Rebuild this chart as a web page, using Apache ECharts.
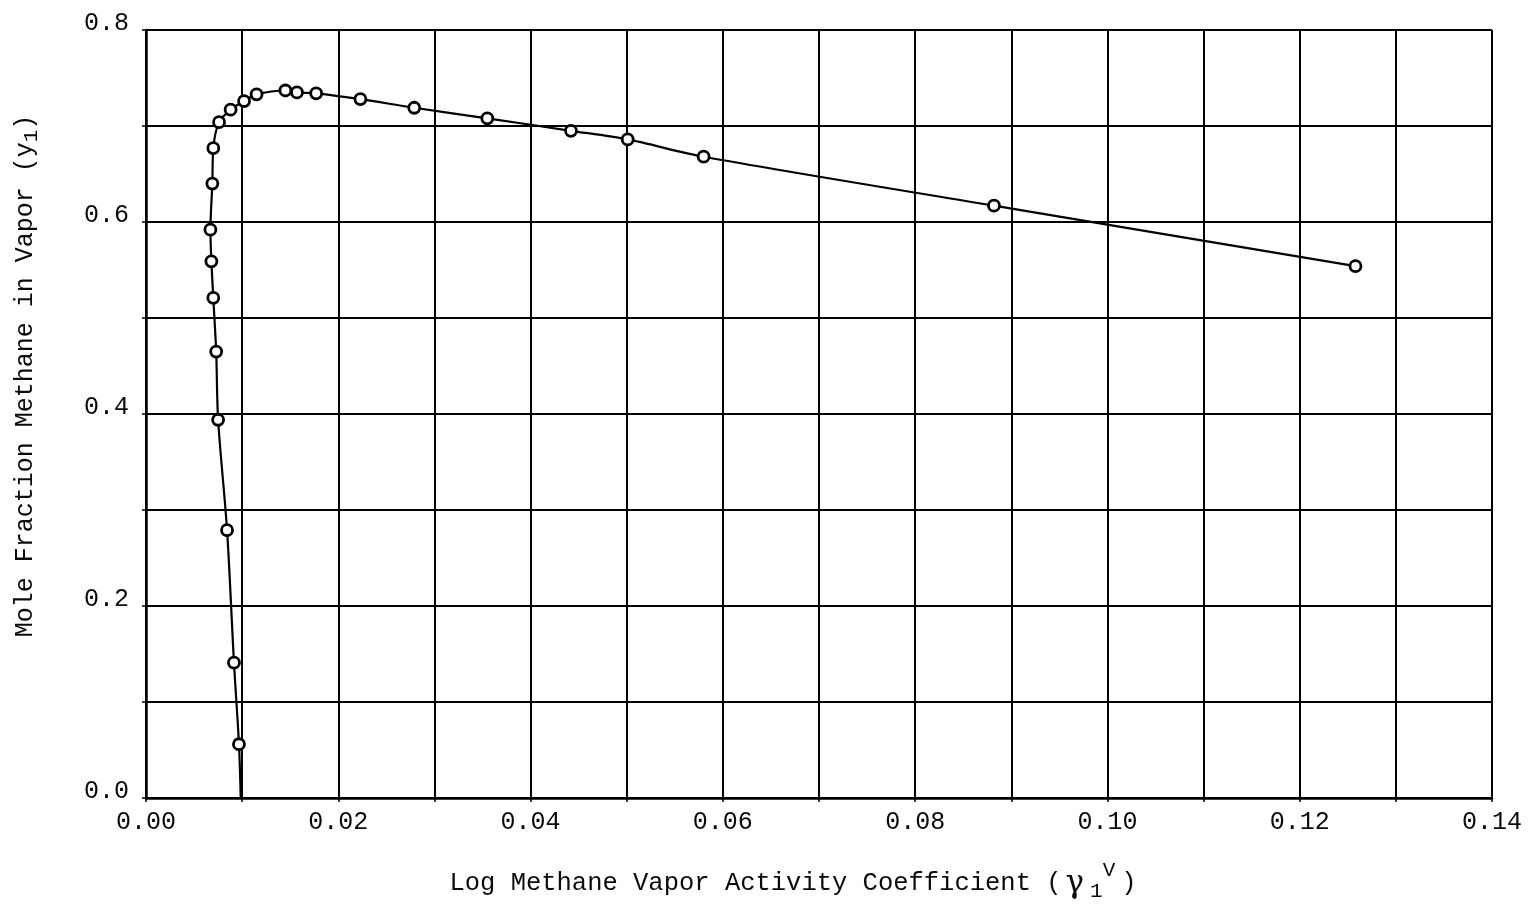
<!DOCTYPE html>
<html>
<head>
<meta charset="utf-8">
<script src="https://cdn.jsdelivr.net/npm/echarts@6/dist/echarts.min.js"></script>
<style>
  html, body { margin: 0; padding: 0; background: #fff; }
  #chart { width: 1536px; height: 914px; }
</style>
</head>
<body>
<div id="chart"></div>
<script>
// Log methane vapor activity coefficient (x) vs mole fraction methane in vapor (y1)
const logGamma = [0.00967, 0.00915, 0.00843, 0.0075, 0.0073, 0.0070, 0.0068, 0.0067, 0.0069,
  0.0070, 0.0076, 0.0088, 0.0102, 0.0115, 0.0145, 0.0157, 0.0177, 0.0223, 0.0279, 0.0355,
  0.0442, 0.0501, 0.0580, 0.0882, 0.1258];
const moleFraction = [0.056, 0.141, 0.279, 0.394, 0.465, 0.521, 0.559, 0.592, 0.640,
  0.677, 0.704, 0.717, 0.726, 0.733, 0.737, 0.735, 0.734, 0.728, 0.719, 0.708,
  0.695, 0.686, 0.668, 0.617, 0.554];
// where the drawn curve meets the x axis
const curveEnd = [0.00985, 0.0];

const xTicks = ['0.00', '0.02', '0.04', '0.06', '0.08', '0.10', '0.12', '0.14'];
const yTicks = ['0.0', '0.2', '0.4', '0.6', '0.8'];

const font = '"Liberation Mono", "DejaVu Sans Mono", monospace';
const ink = '#0a0a0a';

const curve = [{ value: curveEnd, symbol: 'none' }].concat(
  logGamma.map((x, i) => [x, moleFraction[i]])
);

const chart = echarts.init(document.getElementById('chart'), null, { renderer: 'canvas' });
chart.setOption({
  backgroundColor: '#fff',
  animation: false,
  grid: { left: 146, right: 44, top: 30, bottom: 116 },
  xAxis: {
    type: 'value', min: 0, max: 0.14, interval: 0.01,
    axisLine: { show: true, lineStyle: { color: '#000', width: 2.5 } },
    axisTick: { show: true, length: 4, lineStyle: { color: '#000', width: 1.5 } },
    splitLine: { show: true, lineStyle: { color: '#000', width: 2 } },
    axisLabel: {
      color: ink, fontFamily: font, fontSize: 25, margin: 12,
      formatter: v => {
        const s = v.toFixed(2);
        return xTicks.includes(s) ? s : '';
      }
    },
    name: 'Log Methane Vapor Activity Coefficient ({g|γ}{sub|1}{sup|V})',
    nameLocation: 'middle', nameGap: 62,
    nameTextStyle: {
      color: ink, fontFamily: font, fontSize: 25.5, padding: [0, 52, 0, 0],
      rich: {
        g: { fontFamily: '"DejaVu Serif", serif', fontSize: 31, color: ink, padding: [0, 0, 0, 4] },
        sub: { fontFamily: font, fontSize: 21, color: ink, padding: [16, 0, 0, 6] },
        sup: { fontFamily: font, fontSize: 21, color: ink, padding: [0, 6, 26, 0] }
      }
    }
  },
  yAxis: {
    type: 'value', min: 0, max: 0.8, interval: 0.1,
    axisLine: { show: true, lineStyle: { color: '#000', width: 2.5 } },
    axisTick: { show: true, length: 4, lineStyle: { color: '#000', width: 1.5 } },
    splitLine: { show: true, lineStyle: { color: '#000', width: 2 } },
    axisLabel: {
      color: ink, fontFamily: font, fontSize: 25, margin: 17,
      verticalAlign: 'bottom', lineHeight: 14,
      formatter: v => {
        const s = v.toFixed(1);
        return yTicks.includes(s) ? s : '';
      }
    },
    name: 'Mole Fraction Methane in Vapor (y{sub|1})',
    nameLocation: 'middle', nameGap: 104, nameRotate: 90,
    nameTextStyle: {
      color: ink, fontFamily: font, fontSize: 25, padding: [0, 0, 0, 76],
      rich: {
        sub: { fontFamily: font, fontSize: 21, color: ink, padding: [12, 0, 0, 0] }
      }
    }
  },
  series: [{
    type: 'line',
    data: curve,
    smooth: 0.3,
    symbol: 'circle',
    symbolSize: 11,
    showAllSymbol: true,
    lineStyle: { color: '#000', width: 2.2 },
    itemStyle: { color: '#fff', borderColor: '#000', borderWidth: 2.8 },
    z: 5
  }]
});
</script>
</body>
</html>
